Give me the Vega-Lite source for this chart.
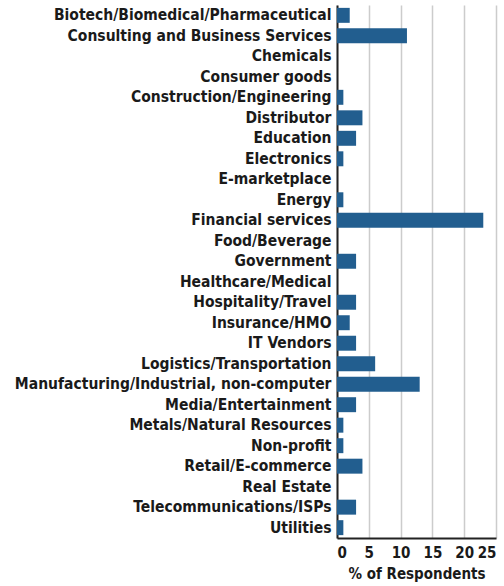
{
  "$schema": "https://vega.github.io/schema/vega-lite/v6.json",
  "width": 159,
  "height": 533,
  "padding": {"left": 14, "top": 5, "right": 2, "bottom": 5},
  "background": "white",
  "data": {"values": [
    {"industry": "Biotech/Biomedical/Pharmaceutical", "pct": 2},
    {"industry": "Consulting and Business Services", "pct": 11},
    {"industry": "Chemicals", "pct": 0},
    {"industry": "Consumer goods", "pct": 0},
    {"industry": "Construction/Engineering", "pct": 1},
    {"industry": "Distributor", "pct": 4},
    {"industry": "Education", "pct": 3},
    {"industry": "Electronics", "pct": 1},
    {"industry": "E-marketplace", "pct": 0},
    {"industry": "Energy", "pct": 1},
    {"industry": "Financial services", "pct": 23},
    {"industry": "Food/Beverage", "pct": 0},
    {"industry": "Government", "pct": 3},
    {"industry": "Healthcare/Medical", "pct": 0},
    {"industry": "Hospitality/Travel", "pct": 3},
    {"industry": "Insurance/HMO", "pct": 2},
    {"industry": "IT Vendors", "pct": 3},
    {"industry": "Logistics/Transportation", "pct": 6},
    {"industry": "Manufacturing/Industrial, non-computer", "pct": 13},
    {"industry": "Media/Entertainment", "pct": 3},
    {"industry": "Metals/Natural Resources", "pct": 1},
    {"industry": "Non-profit", "pct": 1},
    {"industry": "Retail/E-commerce", "pct": 4},
    {"industry": "Real Estate", "pct": 0},
    {"industry": "Telecommunications/ISPs", "pct": 3},
    {"industry": "Utilities", "pct": 1}
  ]},
  "mark": {"type": "bar", "color": "#225e8f"},
  "encoding": {
    "y": {
      "field": "industry", "type": "nominal", "sort": null,
      "scale": {"paddingInner": 0.27, "paddingOuter": 0.14},
      "axis": {
        "title": null, "ticks": false, "labelPadding": 6,
        "labelFont": "DejaVu Sans Condensed", "labelFontWeight": "bold",
        "labelFontSize": 15.5, "labelColor": "#1a1a1a", "labelLimit": 400,
        "domainColor": "#222", "domainWidth": 2
      }
    },
    "x": {
      "field": "pct", "type": "quantitative",
      "scale": {"domain": [0, 25], "nice": false},
      "axis": {
        "title": "% of Respondents", "values": [0, 5, 10, 15, 20, 25],
        "ticks": false, "labelPadding": 7,
        "labelFont": "DejaVu Sans Condensed", "labelFontWeight": "bold",
        "labelFontSize": 15, "labelColor": "#1a1a1a",
        "titleFont": "DejaVu Sans Condensed", "titleFontWeight": "bold",
        "titleFontSize": 15, "titleColor": "#1a1a1a", "titlePadding": 6,
        "domainColor": "#222", "domainWidth": 2,
        "grid": true, "gridColor": "#cccccc", "gridWidth": 1.5
      }
    }
  },
  "config": {"view": {"stroke": null}}
}
